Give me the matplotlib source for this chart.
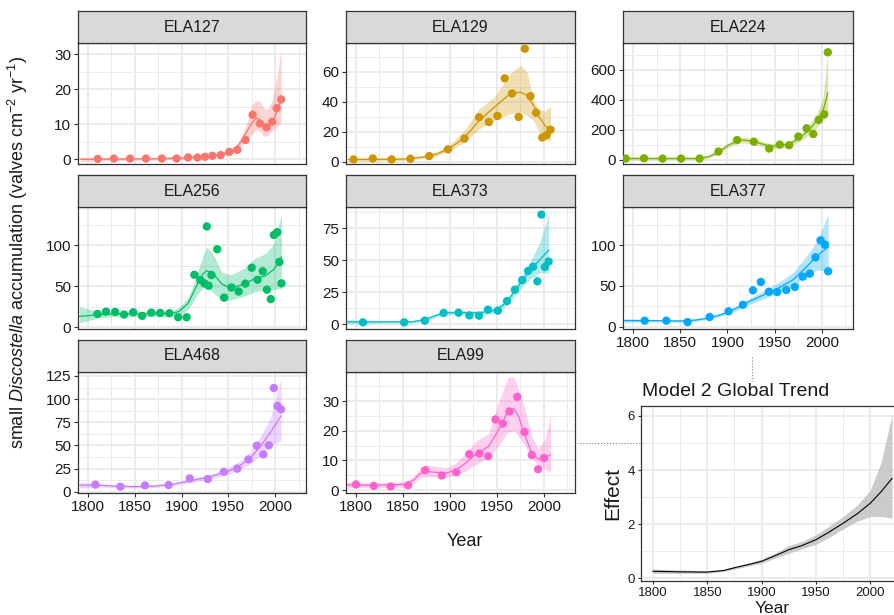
import numpy as np
import matplotlib
matplotlib.use("Agg")
import matplotlib.pyplot as plt
from matplotlib.lines import Line2D
from matplotlib.ticker import MultipleLocator, AutoMinorLocator

plt.rcParams['font.family'] = ['Liberation Sans', 'DejaVu Sans']
plt.rcParams['mathtext.fontset'] = 'custom'
plt.rcParams['mathtext.rm'] = 'Liberation Sans'
plt.rcParams['mathtext.it'] = 'Liberation Sans:italic'

# observed accumulation per lake (year, value)
ela127_year = [1810.5, 1827.7, 1845, 1862, 1879, 1894.7, 1907, 1917, 1925, 1933, 1941.8, 1951,
               1959.6, 1968.4, 1976, 1983.7, 1990.8, 1996.8, 2001.7, 2006.5]
ela127_obs = [0.1, 0.2, 0.2, 0.2, 0.2, 0.2, 0.5, 0.5, 0.7, 1.0, 1.2, 2.1, 2.7, 5.5, 12.7, 10.2,
              9.1, 10.7, 14.6, 17.1]
ela129_year = [1797.5, 1817.9, 1837.9, 1857.9, 1877.9, 1897.9, 1915.4, 1930.9, 1941.4, 1950.5,
               1958.2, 1966, 1973, 1979.6, 1985.6, 1991.6, 1998.2, 2002.7, 2007]
ela129_obs = [1.6, 2.2, 1.6, 2.0, 3.8, 8.3, 15.5, 29.7, 26.5, 30.6, 55.7, 45.6, 29.9, 75.5, 43.8,
              32.8, 16.2, 17.8, 21.4]
ela224_year = [1792.3, 1811.6, 1831.2, 1850.9, 1870.5, 1890.5, 1910.2, 1928, 1944.2, 1955.4,
               1965.3, 1975.1, 1983.9, 1990.9, 1996.8, 2002.5, 2006.3]
ela224_obs = [9, 11, 9, 9, 9, 56, 133, 122, 76, 102, 98, 156, 211, 173, 267, 304, 718]
ela256_year = [1810.2, 1819.3, 1829.1, 1838.6, 1848.4, 1857.9, 1867.7, 1877.2, 1887, 1896.4,
               1905.5, 1913.7, 1920, 1924.5, 1927, 1929, 1932, 1938.2, 1945.5, 1953.3, 1961,
               1968.2, 1975, 1981.2, 1986.8, 1991.2, 1995.4, 1998.7, 2002.2, 2004.6, 2006.8]
ela256_obs = [16, 18.9, 18.5, 15.3, 18.1, 13.7, 17.7, 17.3, 16.9, 12, 12, 64, 57.8, 53.4, 123.2,
              50.6, 63.7, 95.3, 36, 48.4, 43.6, 53.2, 72.6, 57.8, 68.3, 45.8, 34.2, 112.8, 116.2,
              79.7, 53.5]
ela373_year = [1807.4, 1851.2, 1873.3, 1893.3, 1909.1, 1920.7, 1930.9, 1940.4, 1950.9, 1960.7,
               1969.1, 1976.8, 1983.2, 1988.4, 1993, 1997.2, 2001, 2004.9]
ela373_obs = [1.6, 1.6, 2.9, 8.9, 9.1, 7.0, 6.8, 11.5, 10.7, 18.2, 27.1, 34.6, 41.7, 45, 33.6,
              85.7, 44.8, 49]
ela377_year = [1812.3, 1835.3, 1857.8, 1881.1, 1901.2, 1916.4, 1927, 1935.4, 1943.9, 1952.7,
               1962.3, 1971.4, 1979.9, 1987.3, 1993.3, 1998.6, 2003.2, 2006.7]
ela377_obs = [7.4, 7.4, 5.7, 11.9, 18.9, 27, 44.7, 54.9, 43, 42.6, 45.1, 48.8, 61.5, 65.2, 85.2,
              106.1, 100.8, 68]
ela468_year = [1808, 1834.7, 1861, 1886.3, 1908.8, 1928.1, 1945.3, 1959.6, 1971.6, 1980.4,
               1987.4, 1993.3, 1998.6, 2002.5, 2006.3]
ela468_obs = [7.6, 5.4, 6.8, 7.2, 14.4, 13.7, 21.6, 24.9, 34.9, 49.7, 40.3, 50.1, 112, 92.6, 89]
ela99_year = [1800, 1818.9, 1836.8, 1855.4, 1873.7, 1891.2, 1906.7, 1920.4, 1931.2, 1940.7,
              1948.4, 1956.1, 1963.2, 1971.6, 1979.3, 1987, 1993.7, 2000]
ela99_obs = [1.9, 1.4, 1.2, 1.6, 6.7, 4.9, 6.0, 12.1, 12.3, 11.4, 23.8, 22.4, 26.5, 31.4, 19.6,
             11.8, 7.0, 10.8]

# fitted smooth with 95% band
ela127_fy = [1792, 1820, 1850, 1880, 1900, 1920, 1935, 1950, 1958, 1964, 1970, 1975, 1980, 1984,
             1988, 1992, 1997, 2002, 2006.5]
ela127_fit = [0.0, 0.05, 0.1, 0.2, 0.4, 0.7, 1.1, 2.0, 3.0, 5.2, 8.0, 10.3, 11.7, 11.3, 9.8, 9.1,
              10.5, 13.6, 17.0]
ela127_lo = [-0.6, -0.4, -0.3, -0.2, 0.0, 0.3, 0.7, 1.4, 2.2, 4.0, 5.8, 7.0, 8.4, 8.0, 6.5, 6.8,
             8.2, 9.2, 10.6]
ela127_hi = [0.6, 0.5, 0.5, 0.6, 0.8, 1.1, 1.5, 2.6, 3.9, 6.6, 10.5, 15.5, 16.9, 16.5, 14.6, 14.1,
             17.0, 23.6, 31.5]

ela129_fy = [1792, 1820, 1850, 1870, 1885, 1898, 1915, 1931, 1947, 1964, 1975, 1982, 1989, 1994,
             2001, 2007]
ela129_fit = [1.5, 1.6, 1.8, 3.0, 5.0, 8.4, 15.8, 27.4, 36.4, 45.4, 46.5, 44.3, 37.6, 30.8, 24.1,
              21.2]
ela129_lo = [0.3, 0.6, 0.9, 2.0, 3.6, 6.7, 12.8, 21.8, 27.4, 32.0, 33.0, 31.0, 27.5, 20.7, 15.1,
             13.6]
ela129_hi = [2.7, 2.6, 2.7, 4.0, 6.5, 10.5, 20.7, 35.3, 43.2, 58.9, 64.5, 60.0, 40.9, 35.0, 34.0,
             36.9]

ela224_fy = [1792, 1830, 1870, 1880, 1890, 1900, 1912, 1920, 1930, 1945, 1955, 1965, 1975, 1985,
             1995, 2001, 2006.3]
ela224_fit = [10, 10, 10, 22, 50, 95, 133, 131, 118, 92, 95, 105, 140, 190, 265, 322, 445]
ela224_lo = [0, 2, 2, 12, 38, 80, 113, 113, 100, 76, 80, 88, 118, 162, 218, 265, 310]
ela224_hi = [20, 18, 18, 32, 62, 110, 150, 150, 137, 110, 110, 122, 162, 222, 315, 405, 720]

ela256_fy = [1791, 1810, 1830, 1850, 1870, 1890, 1897, 1907, 1913, 1918, 1923, 1927, 1934, 1943,
             1953, 1967, 1978, 1990, 1999, 2006.8]
ela256_fit = [13, 15, 16, 16, 16, 16.5, 19, 29, 43, 55, 65, 69, 65, 53, 47, 53, 59, 63, 71, 86]
ela256_lo = [5, 11, 13, 13, 13, 13, 14, 21, 32, 42, 48, 48, 42, 33, 33, 38, 43, 45, 46, 47]
ela256_hi = [25, 19, 19, 19, 19, 20, 24, 36, 53, 70, 88, 98, 89, 67, 64, 72, 84, 90, 103, 139]

ela373_fy = [1791, 1830, 1860, 1875, 1885, 1895, 1910, 1930, 1945, 1955, 1962, 1970, 1978, 1986,
             1995, 2004.9]
ela373_fit = [2, 2, 2, 4, 7, 9, 9.3, 9, 10.5, 14, 19, 27, 35, 43, 50, 58]
ela373_lo = [0.5, 1, 1, 2.5, 5.5, 7.5, 7.8, 7.5, 8.5, 11.5, 16, 23, 30, 36, 40, 40]
ela373_hi = [3.5, 3, 3, 5.5, 8.5, 10.5, 10.8, 10.5, 12.5, 16.5, 22, 31, 40, 50, 63, 86]

ela377_fy = [1791, 1820, 1850, 1865, 1880, 1895, 1910, 1925, 1940, 1955, 1970, 1985, 1995,
             2006.7]
ela377_fit = [7.5, 7.5, 7, 8, 10.5, 15.5, 23, 32, 40, 48, 58, 75, 87, 98]
ela377_lo = [5, 6, 5.5, 6.5, 9, 13.5, 20, 28, 35, 42, 50, 63, 70, 68]
ela377_hi = [10, 9, 8.5, 9.5, 12, 17.5, 26, 36, 45, 55, 67, 89, 105, 138]

ela468_fy = [1791, 1810, 1830, 1850, 1870, 1890, 1910, 1930, 1950, 1965, 1975, 1985, 1995, 2006.3]
ela468_fit = [7, 7, 6, 5.5, 6, 8, 12, 16, 22, 30, 38, 50, 64, 82]
ela468_lo = [4, 5, 4.5, 4, 4.5, 6.5, 10, 13.5, 18.5, 25, 31, 40, 50, 55]
ela468_hi = [10, 9, 7.5, 7, 7.5, 9.5, 14, 18.5, 26, 35, 45, 61, 80, 122]

ela99_fy = [1791, 1820, 1853, 1862, 1868, 1875, 1885, 1896, 1906, 1917, 1927, 1941, 1952, 1962,
            1968, 1973, 1980, 1987, 1994, 2001, 2007]
ela99_fit = [1.7, 1.6, 1.9, 3.5, 5.5, 6.2, 6.0, 5.7, 6.8, 9.1, 11.9, 14.7, 20.4, 26.8, 27.4, 24.9,
             18.1, 12.5, 10.4, 10.8, 11.9]
ela99_lo = [0.8, 0.8, 1.0, 2.3, 4.0, 4.5, 4.5, 4.3, 5.0, 6.5, 8.5, 11.0, 15.0, 19.5, 20.0, 18.0,
            15.0, 10.8, 8.2, 7.0, 6.0]
ela99_hi = [2.6, 2.4, 2.8, 4.7, 7.5, 8.5, 8.0, 7.5, 9.0, 12.5, 16.5, 19.0, 30.0, 38.0, 38.0, 34.0,
            27.0, 18.0, 14.0, 17.0, 25.0]

# global trend of model 2
glob_year = [1800, 1825, 1850, 1865, 1877, 1890, 1900, 1912, 1925, 1937, 1950, 1962, 1975, 1988,
             2000, 2010, 2020]
glob_fit = [0.25, 0.23, 0.22, 0.28, 0.4, 0.52, 0.62, 0.82, 1.05, 1.2, 1.42, 1.7, 2.03, 2.38, 2.77,
            3.2, 3.69]
glob_lo = [0.17, 0.17, 0.18, 0.24, 0.35, 0.46, 0.55, 0.73, 0.92, 1.08, 1.25, 1.5, 1.82, 2.1, 2.28,
           2.28, 2.22]
glob_hi = [0.33, 0.3, 0.27, 0.32, 0.45, 0.58, 0.7, 0.92, 1.2, 1.35, 1.6, 1.92, 2.28, 2.7, 3.25,
           4.3, 6.05]

lakes = ['ELA127', 'ELA129', 'ELA224', 'ELA256', 'ELA373', 'ELA377', 'ELA468', 'ELA99']
colors = ['#F8766D', '#CD9600', '#7CAE00', '#00BE67', '#00BFC4', '#00A9FF', '#C77CFF', '#FF61CC']
obs = [(ela127_year, ela127_obs), (ela129_year, ela129_obs), (ela224_year, ela224_obs),
       (ela256_year, ela256_obs), (ela373_year, ela373_obs), (ela377_year, ela377_obs),
       (ela468_year, ela468_obs), (ela99_year, ela99_obs)]
fits = [(ela127_fy, ela127_fit, ela127_lo, ela127_hi), (ela129_fy, ela129_fit, ela129_lo, ela129_hi),
        (ela224_fy, ela224_fit, ela224_lo, ela224_hi), (ela256_fy, ela256_fit, ela256_lo, ela256_hi),
        (ela373_fy, ela373_fit, ela373_lo, ela373_hi), (ela377_fy, ela377_fit, ela377_lo, ela377_hi),
        (ela468_fy, ela468_fit, ela468_lo, ela468_hi), (ela99_fy, ela99_fit, ela99_lo, ela99_hi)]

# free y scales of the facets
ylims = [(-1.35, 33.2), (-1.5, 79.3), (-27, 780), (-2.4, 147), (-3.6, 91.6), (-2.8, 147),
         (-1.4, 129.3), (-1.0, 39.8)]
ysteps = [10, 20, 200, 50, 25, 50, 25, 10]

W, H = 895, 615
fig = plt.figure(figsize=(W / 100, H / 100), dpi=100)


def px_axes(x0, y0, x1, y1):
    return fig.add_axes([x0 / W, 1 - y1 / H, (x1 - x0) / W, (y1 - y0) / H])


def style(ax):
    ax.set_axisbelow(True)
    ax.grid(which='major', color='#EBEBEB', lw=1.4)
    ax.grid(which='minor', color='#EBEBEB', lw=0.7)
    for s in ax.spines.values():
        s.set_color('#333333')
        s.set_linewidth(0.9)
    ax.tick_params(which='major', direction='out', length=3, width=0.8, color='#333333',
                   labelcolor='#1A1A1A', labelsize=11, pad=2)
    ax.tick_params(which='minor', length=0)


col_x = [(78, 306), (346, 575), (623, 853)]
row_y = [(43, 164), (207, 329), (372, 493)]
strip_h = 32

for i, lake in enumerate(lakes):
    r, c = divmod(i, 3)
    x0, x1 = col_x[c]
    y0, y1 = row_y[r]
    ax = px_axes(x0, y0, x1, y1)
    fy, fit, lo, hi = fits[i]
    ax.fill_between(fy, lo, hi, color=colors[i], alpha=0.3, lw=0)
    ax.plot(fy, fit, color=colors[i], lw=0.9)
    ax.scatter(obs[i][0], obs[i][1], s=36, color=colors[i], edgecolors='none', zorder=3)
    ax.set_xlim(1789.4, 2033)
    ax.set_ylim(ylims[i])
    ax.xaxis.set_major_locator(MultipleLocator(50))
    ax.xaxis.set_minor_locator(MultipleLocator(25))
    ax.yaxis.set_major_locator(MultipleLocator(ysteps[i]))
    ax.yaxis.set_minor_locator(AutoMinorLocator(2))
    style(ax)
    if i not in (5, 6, 7):
        ax.tick_params(axis='x', which='both', bottom=False, labelbottom=False)
    sax = px_axes(x0, y0 - strip_h, x1, y0)
    sax.set_facecolor('#D9D9D9')
    sax.set_xticks([])
    sax.set_yticks([])
    for s in sax.spines.values():
        s.set_color('#333333')
        s.set_linewidth(0.9)
    sax.text(0.5, 0.5, lake, ha='center', va='center', fontsize=11.5, color='#1A1A1A',
             transform=sax.transAxes)

fig.text(18 / W, 1 - 252 / H,
         r'small $\mathit{Discostella}$ accumulation (valves cm$^{-2}$ yr$^{-1}$)',
         rotation=90, ha='center', va='center', fontsize=13, color='#1A1A1A')
fig.text(465 / W, 1 - 541 / H, 'Year', ha='center', va='center', fontsize=13, color='#1A1A1A')

# inset: global trend
iax = px_axes(641, 406, 904, 581)
iax.fill_between(glob_year, glob_lo, glob_hi, color='#BEBEBE', alpha=0.8, lw=0)
iax.plot(glob_year, glob_fit, color='black', lw=0.8)
iax.set_xlim(1789, 2031)
iax.set_ylim(-0.11, 6.37)
iax.xaxis.set_major_locator(MultipleLocator(50))
iax.xaxis.set_minor_locator(MultipleLocator(25))
iax.yaxis.set_major_locator(MultipleLocator(2))
iax.yaxis.set_minor_locator(MultipleLocator(1))
style(iax)
iax.tick_params(which='major', labelsize=9.5, length=2.5)
iax.set_ylabel('Effect', fontsize=15, color='#1A1A1A', labelpad=4)
iax.set_xlabel('Year', fontsize=12.5, color='#1A1A1A', labelpad=1)
fig.text(642 / W, 1 - 391 / H, 'Model 2 Global Trend', ha='left', va='center', fontsize=14,
         color='#1A1A1A')

# dotted connectors between facets and inset
fig.add_artist(Line2D([752 / W, 752 / W], [1 - 357 / H, 1 - 381 / H], transform=fig.transFigure,
                      ls=':', color='#808080', lw=0.8))
fig.add_artist(Line2D([577 / W, 641 / W], [1 - 443 / H, 1 - 443 / H], transform=fig.transFigure,
                      ls=':', color='#808080', lw=0.8))

fig.savefig('out.png', dpi=100)
